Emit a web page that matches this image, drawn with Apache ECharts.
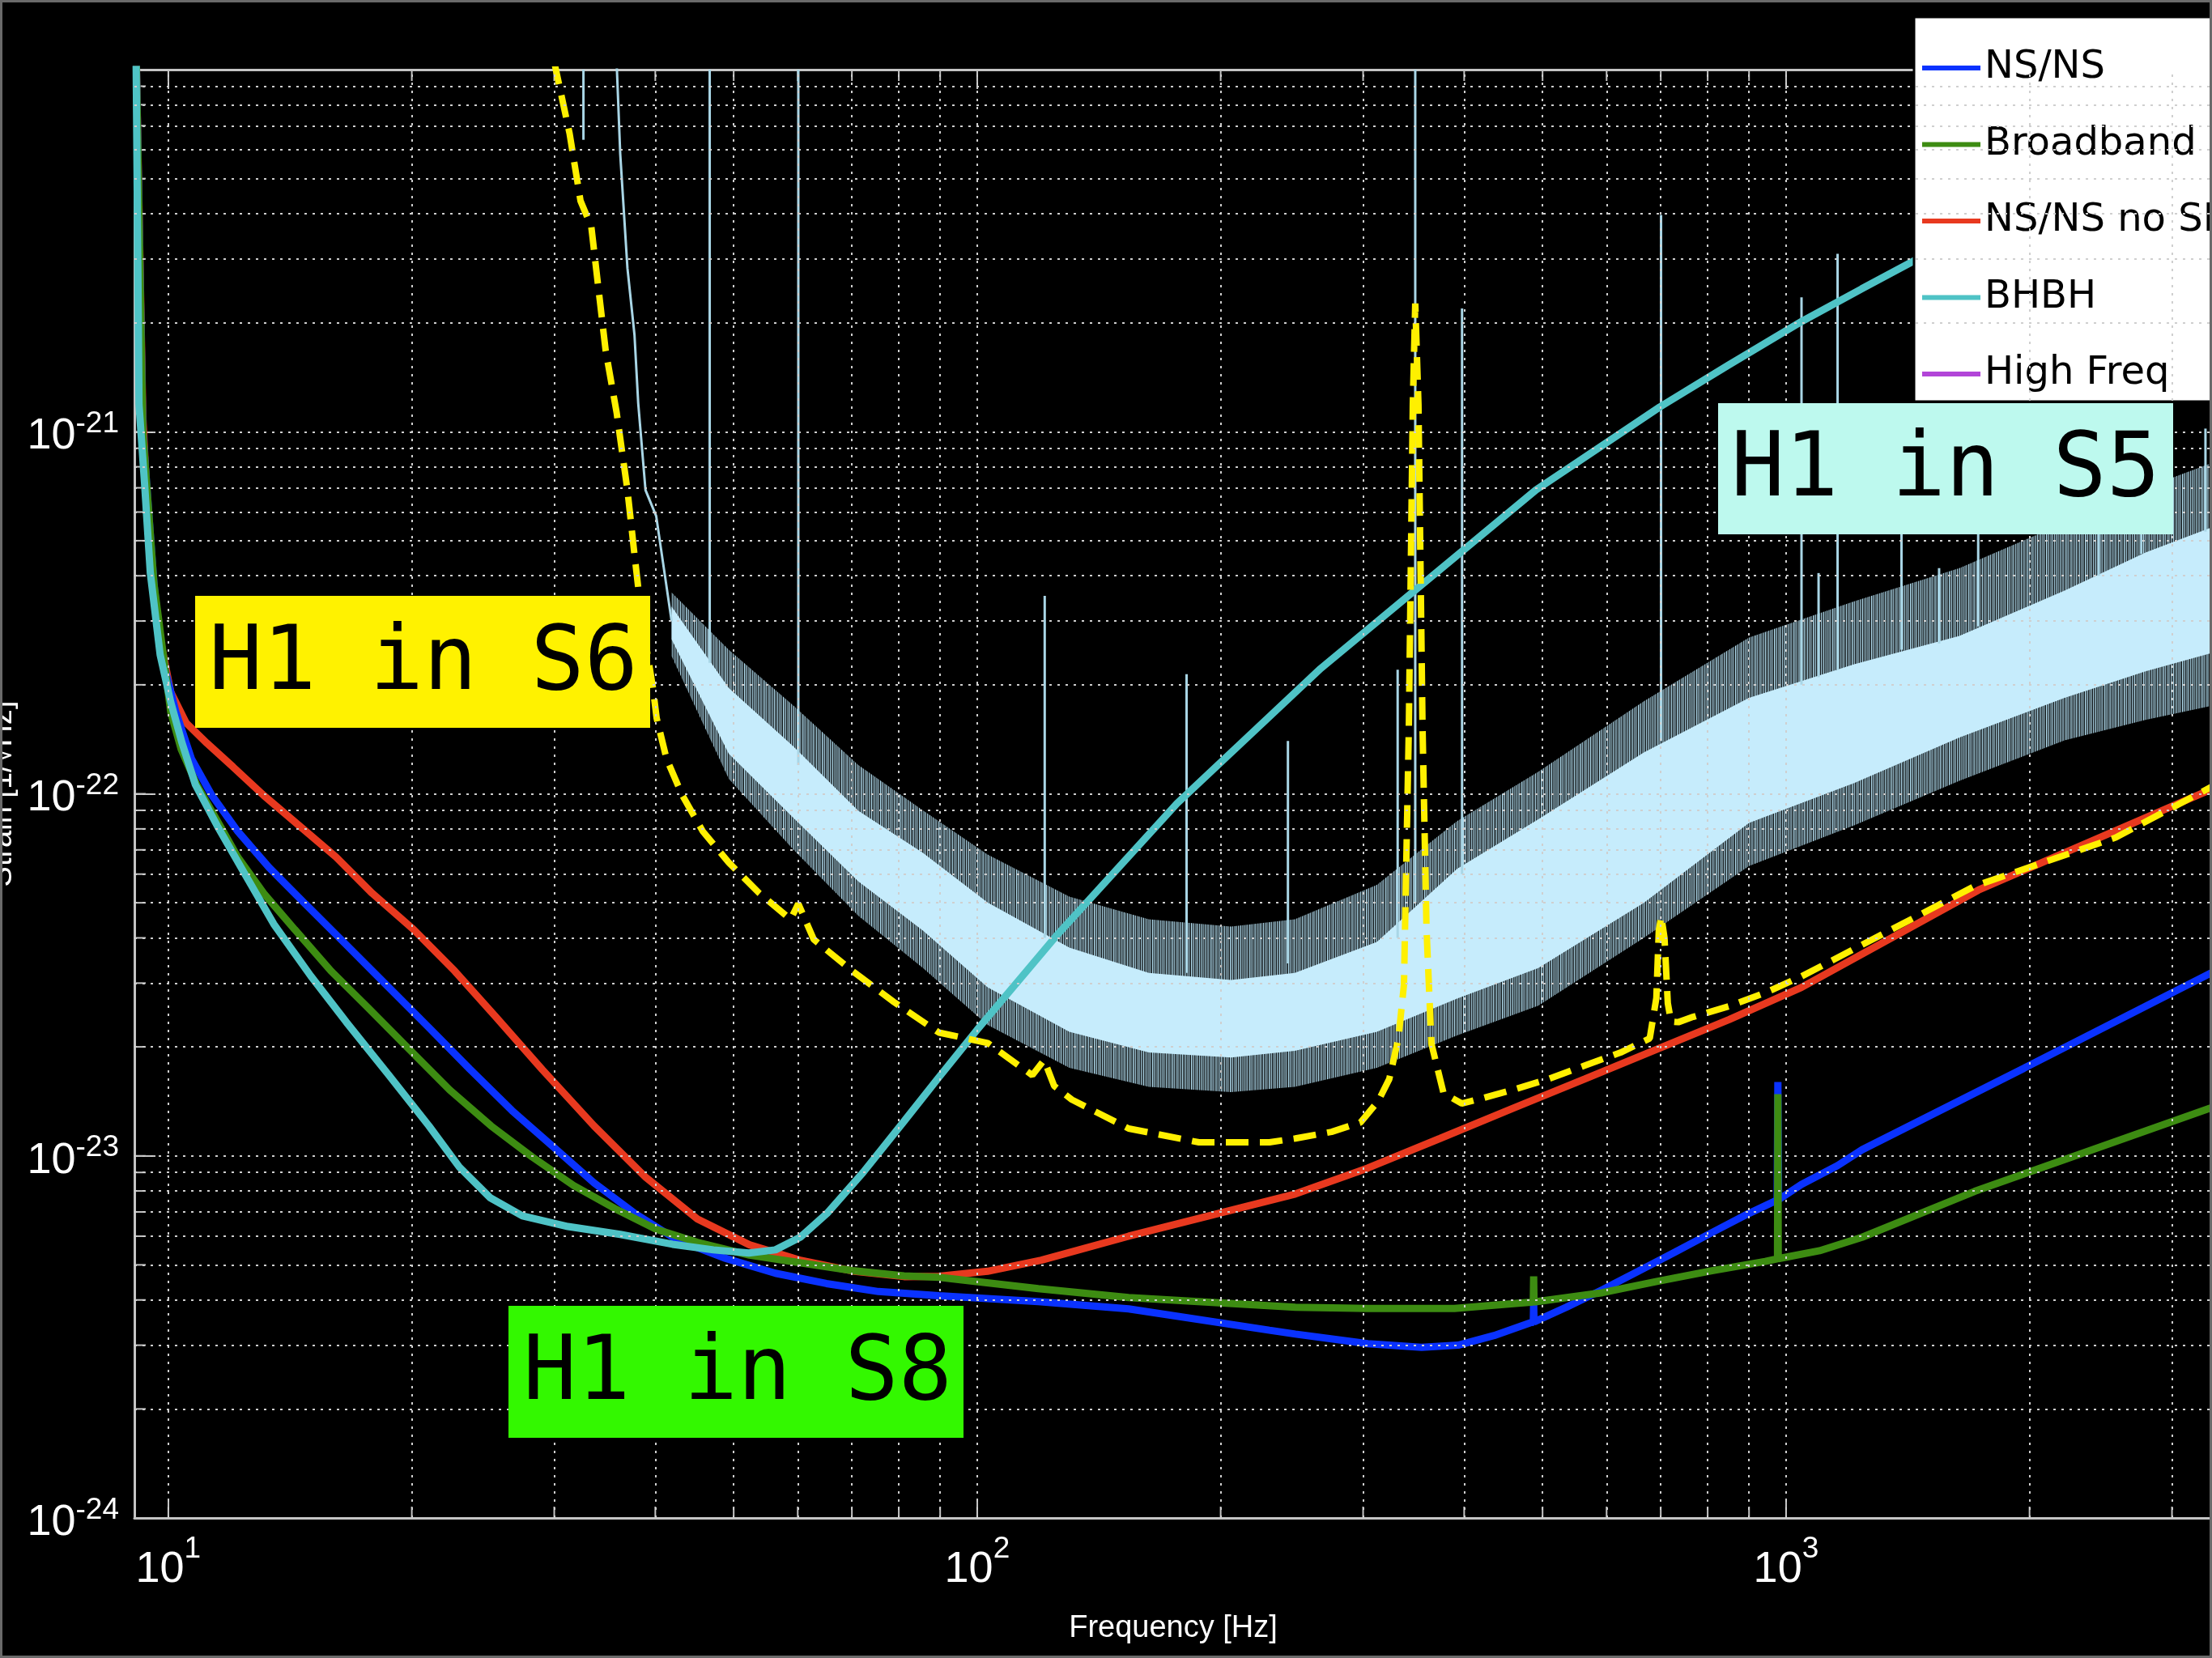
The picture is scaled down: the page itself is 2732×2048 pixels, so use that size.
<!DOCTYPE html>
<html>
<head>
<meta charset="utf-8">
<title>H1 strain sensitivity</title>
<script src="https://cdn.jsdelivr.net/npm/echarts@6.0.0/dist/echarts.min.js"></script>
<style>
  html, body { margin: 0; padding: 0; background: #000; }
  #main { width: 2732px; height: 2048px; }
</style>
</head>
<body>
<div id="main"></div>
<script>
// values: frequency in Hz, strain in 1/sqrt(Hz)

var nsnsFreq = [9.12, 9.3, 9.6, 9.78, 9.92, 10.22, 10.68, 11.32, 12.19, 13.32, 14.76, 16.61, 18.67, 21.0, 23.6, 26.6, 29.9, 33.6, 37.8, 42.5, 48.6, 56.3, 65.1, 75.5, 89.7, 119, 153.9, 229.8, 247.4, 304, 354.4, 393.2, 435.6, 482.7, 487, 487.5, 488, 535.2, 593.2, 657.4, 728.6, 807.5, 895.4, 975, 977, 979, 1045, 1158, 1242, 1968, 3362];
var nsnsStrain = [1.2e-20, 1.0e-21, 3.8e-22, 2.6e-22, 2.18e-22, 1.68e-22, 1.25e-22, 9.9e-23, 7.87e-23, 6.26e-23, 4.97e-23, 3.82e-23, 2.94e-23, 2.26e-23, 1.735e-23, 1.334e-23, 1.06e-23, 8.42e-24, 6.92e-24, 5.87e-24, 5.23e-24, 4.74e-24, 4.44e-24, 4.22e-24, 4.11e-24, 3.96e-24, 3.78e-24, 3.3e-24, 3.22e-24, 3.03e-24, 2.96e-24, 3.0e-24, 3.19e-24, 3.46e-24, 3.47e-24, 3.92e-24, 3.48e-24, 3.82e-24, 4.27e-24, 4.81e-24, 5.42e-24, 6.12e-24, 6.9e-24, 7.55e-24, 1.6e-23, 7.57e-24, 8.34e-24, 9.4e-24, 1.04e-23, 1.745e-23, 3.21e-23];

var broadFreq = [9.12, 9.3, 9.6, 10.07, 10.37, 10.84, 11.5, 12.19, 13.12, 14.33, 15.89, 17.61, 19.81, 22.28, 25.06, 28.18, 31.7, 35.67, 40.12, 45.1, 52.3, 60.6, 70.1, 81.2, 89.7, 119, 153.9, 247.4, 304, 389, 487, 487.5, 488, 593.2, 692.1, 807.5, 942.6, 976, 977, 978, 1100, 1242, 1711, 3362];
var broadStrain = [1.2e-20, 1.0e-21, 3.8e-22, 1.68e-22, 1.33e-22, 1.06e-22, 8.41e-23, 6.68e-23, 5.31e-23, 4.22e-23, 3.24e-23, 2.58e-23, 1.98e-23, 1.52e-23, 1.21e-23, 9.93e-24, 8.28e-24, 7.15e-24, 6.27e-24, 5.77e-24, 5.32e-24, 5.06e-24, 4.82e-24, 4.66e-24, 4.62e-24, 4.3e-24, 4.06e-24, 3.82e-24, 3.79e-24, 3.79e-24, 3.95e-24, 4.65e-24, 3.95e-24, 4.19e-24, 4.5e-24, 4.81e-24, 5.11e-24, 5.2e-24, 1.48e-23, 5.2e-24, 5.47e-24, 5.96e-24, 7.98e-24, 1.36e-23];

var noSrmFreq = [9.12, 9.3, 9.5, 9.78, 10.07, 10.52, 11.16, 12.02, 13.12, 14.54, 16.12, 17.87, 20.1, 22.6, 25.4, 29.0, 33.6, 38.96, 45.1, 52.3, 60.6, 70.1, 81.2, 89.7, 103, 120, 153.9, 247.4, 303.8, 373.4, 458.6, 563.5, 692.1, 850.5, 1045, 1729, 3362];
var noSrmStrain = [1.2e-20, 1.1e-21, 4.35e-22, 2.65e-22, 1.91e-22, 1.57e-22, 1.38e-22, 1.187e-22, 9.9e-23, 8.14e-23, 6.69e-23, 5.31e-23, 4.22e-23, 3.24e-23, 2.42e-23, 1.73e-23, 1.21e-23, 8.71e-24, 6.69e-24, 5.68e-24, 5.14e-24, 4.81e-24, 4.64e-24, 4.65e-24, 4.8e-24, 5.15e-24, 6.0e-24, 7.85e-24, 9.25e-24, 1.117e-23, 1.35e-23, 1.63e-23, 1.97e-23, 2.38e-23, 2.92e-23, 5.42e-23, 1.031e-22];

var bhbhFreq = [9.12, 9.2, 9.35, 9.5, 9.77, 10.07, 10.4, 10.8, 11.5, 12.4, 13.5, 15.0, 16.6, 18.7, 21.0, 22.9, 25.0, 27.4, 31.2, 36.2, 42.0, 47.2, 52.2, 56.3, 60.5, 65.2, 72.3, 81.3, 89.7, 100, 125, 176.6, 266, 340, 402, 490.6, 600, 698, 850, 1047, 1240, 1442, 3362];
var bhbhStrain = [1.2e-20, 1.19e-21, 7.1e-22, 4.08e-22, 2.42e-22, 1.79e-22, 1.38e-22, 1.06e-22, 8.14e-23, 6.07e-23, 4.37e-23, 3.14e-23, 2.34e-23, 1.68e-23, 1.21e-23, 9.31e-24, 7.66e-24, 6.83e-24, 6.38e-24, 6.07e-24, 5.70e-24, 5.50e-24, 5.39e-24, 5.50e-24, 5.97e-24, 6.93e-24, 9.01e-24, 1.25e-23, 1.65e-23, 2.23e-23, 4.03e-23, 9.4e-23, 2.22e-22, 3.5e-22, 4.77e-22, 6.9e-22, 9.33e-22, 1.17e-21, 1.53e-21, 2.02e-21, 2.48e-21, 2.97e-21, 7.0e-21];

// H1 in S6 (dashed)
var s6Freq = [30.0, 31.34, 32.33, 33.34, 34.02, 34.73, 35.83, 36.95, 37.73, 38.5, 39.72, 40.15, 41.3, 43.2, 45.8, 49.3, 53.8, 58.8, 60.1, 62.8, 70.1, 78.9, 89.7, 103, 117, 121, 124.5, 130.9, 153.9, 188, 229.8, 247.4, 274.2, 297.8, 313.4, 323.2, 331.7, 337, 341.7, 345.6, 348, 351.2, 355.3, 359.4, 364.4, 377.2, 397.2, 422.3, 458.6, 508.4, 563.5, 624.6, 678.4, 691.3, 696.1, 701, 707.5, 714.2, 720.8, 736, 767.3, 850.5, 942.6, 1045, 1711, 2556, 3362];
var s6Strain = [1.05e-20, 6.66e-21, 4.34e-21, 3.68e-21, 2.49e-21, 1.675e-21, 1.13e-21, 6.9e-22, 4.5e-22, 3.03e-22, 1.97e-22, 1.62e-22, 1.25e-22, 9.9e-23, 7.87e-23, 6.46e-23, 5.31e-23, 4.5e-23, 4.97e-23, 3.96e-23, 3.24e-23, 2.66e-23, 2.19e-23, 2.05e-23, 1.67e-23, 1.84e-23, 1.56e-23, 1.43e-23, 1.19e-23, 1.09e-23, 1.09e-23, 1.117e-23, 1.165e-23, 1.237e-23, 1.42e-23, 1.63e-23, 2.11e-23, 2.97e-23, 1.52e-22, 1.19e-21, 2.26e-21, 1.19e-21, 1.52e-22, 4.19e-23, 2.04e-23, 1.49e-23, 1.395e-23, 1.444e-23, 1.52e-23, 1.63e-23, 1.775e-23, 1.93e-23, 2.11e-23, 2.73e-23, 4.19e-23, 4.59e-23, 4.0e-23, 2.64e-23, 2.35e-23, 2.34e-23, 2.42e-23, 2.59e-23, 2.82e-23, 3.13e-23, 5.56e-23, 7.57e-23, 1.047e-22];

// H1 in S5: steep low-frequency trace, then the noise band (core and outer fringe)
var s5LowFreq = [35.8, 36.2, 36.95, 37.7, 38.1, 38.9, 40.1, 41.9];
var s5LowStrain = [1.1e-20, 5.85e-21, 2.83e-21, 1.85e-21, 1.2e-21, 6.9e-22, 5.85e-22, 3.0e-22];
var s5Freq = [41.9, 49.3, 59.3, 71.3, 85.7, 103, 130, 163, 206, 247, 312, 392, 494, 667, 900, 1214, 1638, 2210, 2782, 3362];
var s5CoreHi = [3.29e-22, 1.96e-22, 1.35e-22, 8.97e-23, 6.87e-23, 5.01e-23, 3.76e-23, 3.2e-23, 3.06e-23, 3.2e-23, 3.9e-23, 6.2e-23, 8.5e-23, 1.3e-22, 1.84e-22, 2.28e-22, 2.73e-22, 3.64e-22, 4.64e-22, 5.45e-22];
var s5CoreLo = [2.67e-22, 1.29e-22, 8.57e-23, 5.73e-23, 4.19e-23, 2.92e-23, 2.2e-23, 1.93e-23, 1.87e-23, 1.95e-23, 2.2e-23, 2.72e-23, 3.3e-23, 5.0e-23, 8.31e-23, 1.07e-22, 1.43e-22, 1.84e-22, 2.18e-22, 2.45e-22];
var s5FringeHi = [3.6e-22, 2.5e-22, 1.75e-22, 1.2e-22, 9.0e-23, 6.8e-23, 5.2e-23, 4.5e-23, 4.3e-23, 4.5e-23, 5.6e-23, 8.4e-23, 1.15e-22, 1.8e-22, 2.7e-22, 3.4e-22, 4.2e-22, 5.6e-22, 7.0e-22, 8.2e-22];
var s5FringeLo = [2.4e-22, 1.1e-22, 7.0e-23, 4.6e-23, 3.3e-23, 2.3e-23, 1.75e-23, 1.55e-23, 1.5e-23, 1.55e-23, 1.75e-23, 2.15e-23, 2.6e-23, 4.0e-23, 6.32e-23, 8.18e-23, 1.086e-22, 1.405e-22, 1.6e-22, 1.75e-22];
// S5 spectral lines
var s5LineFreq = [32.6, 46.7, 60.1, 121.2, 181.5, 242.2, 331, 348, 397.6, 700.6, 1045, 1097, 1158, 1389, 1546, 1728, 2436, 2750, 3300];
var s5LineBase = [6.4e-21, 2.3e-22, 1.2e-22, 4.0e-23, 3.2e-23, 3.4e-23, 4.0e-23, 5.0e-23, 6.0e-23, 1.4e-22, 2.0e-22, 2.1e-22, 2.2e-22, 2.5e-22, 2.6e-22, 2.9e-22, 4.0e-22, 4.6e-22, 5.3e-22];
var s5LineTop = [1e-20, 1e-20, 1e-20, 3.52e-22, 2.14e-22, 1.40e-22, 2.2e-22, 1e-20, 2.19e-21, 3.97e-21, 2.35e-21, 4.07e-22, 3.1e-21, 5.25e-22, 4.2e-22, 5.25e-22, 6.0e-22, 1.02e-21, 1.02e-21];

var legendNames = ['NS/NS', 'Broadband', 'NS/NS no SRM', 'BHBH', 'High Freq'];
var gridMantissa = [1, 2, 3, 4, 5, 6, 7, 8, 9];
var gridFreqDecades = [10, 100, 1000];
var gridStrainDecades = [1e-24, 1e-23, 1e-22, 1e-21];

var F_MIN = 9.08, F_MAX = 3362;
// ECharts rounds tiny log-axis ticks to 0, so strain is plotted in units of 1e-24
var STRAIN_UNIT = 1e-24;
var UNIT_EXP = -24;
var U_MIN = 1, U_MAX = 10000;
function toU(h) { return h / STRAIN_UNIT; }
function pts(freq, strain) {
	return freq.map(function (f, i) { return [f, toU(strain[i])]; });
}

var gridFreq = [];
gridFreqDecades.forEach(function (d) {
	gridMantissa.forEach(function (m) {
		if (m * d < F_MAX) { gridFreq.push(m * d); }
	});
});
var gridStrain = [];
gridStrainDecades.forEach(function (d) {
	gridMantissa.forEach(function (m) {
		if (m * d > 1e-24) { gridStrain.push(toU(m * d)); }
	});
});

// streaky texture for the noisy fringe of the S5 band
var streakX = [0, 2, 3.5, 5, 7, 8.5, 10, 12, 13.5, 15, 17, 18.5, 20, 22];
var streakAlpha = [0.95, 0.6, 0.85, 0.5, 1, 0.65, 0.8, 0.55, 0.9, 0.6, 0.85, 0.5, 0.95, 0.7];
var streak = document.createElement('canvas');
streak.width = 24;
streak.height = 4;
(function () {
	var ctx = streak.getContext('2d');
	streakX.forEach(function (x, i) {
		ctx.fillStyle = 'rgba(176,218,236,' + streakAlpha[i] + ')';
		ctx.fillRect(x, 0, 1.2, 4);
	});
})();

var NUM_FONT = "'Liberation Sans Narrow', 'Liberation Sans', Arial, sans-serif";
var AXIS_GRAY = '#c4c4c4';
var LINE_W = 9;

function richFor(bPadding) {
	return {
		b: { color: '#fff', fontSize: 54, fontFamily: NUM_FONT, lineHeight: 56, padding: bPadding },
		s: { color: '#fff', fontSize: 37, fontFamily: NUM_FONT, lineHeight: 40, verticalAlign: 'top' }
	};
}

var chart = echarts.init(document.getElementById('main'), null, { renderer: 'canvas' });

var lineCommon = {
	type: 'line',
	showSymbol: false,
	symbol: 'none',
	silent: true,
	clip: true,
	animation: false
};

function curve(name, color, freq, strain, extra) {
	var s = Object.assign({}, lineCommon, {
		name: name,
		color: color,
		data: pts(freq, strain),
		lineStyle: { color: color, width: LINE_W }
	});
	return Object.assign(s, extra || {});
}

function tickLine(x1, y1, x2, y2) {
	return { type: 'line', shape: { x1: x1, y1: y1, x2: x2, y2: y2 }, style: { stroke: AXIS_GRAY, lineWidth: 2 } };
}

var boxText = { fill: '#000', fontSize: 110, fontFamily: 'DejaVu Sans Mono', align: 'center', verticalAlign: 'middle', shadowBlur: 6, shadowColor: 'rgba(0,0,0,0.6)' };

var option = {
	backgroundColor: '#000',
	animation: false,
	grid: { left: 166, top: 86, right: 0, bottom: 173, outerBoundsMode: 'none', containLabel: false },
	legend: {
		data: legendNames,
		orient: 'vertical',
		left: 2364,
		top: 21,
		backgroundColor: '#fff',
		borderColor: '#000',
		borderWidth: 3,
		borderRadius: 0,
		padding: [35, 60, 6, 10],
		itemWidth: 72,
		itemHeight: 6,
		itemGap: 38.5,
		icon: 'rect',
		selectedMode: false,
		textStyle: { color: '#000', fontSize: 48, lineHeight: 56, fontFamily: 'DejaVu Sans' }
	},
	xAxis: [
		{
			type: 'log',
			min: F_MIN,
			max: F_MAX,
			position: 'bottom',
			name: 'Frequency [Hz]',
			nameLocation: 'middle',
			nameGap: 118,
			nameTextStyle: { color: '#fff', fontSize: 38, fontFamily: 'Liberation Sans' },
			axisLine: { show: true, onZero: false, lineStyle: { color: AXIS_GRAY, width: 3 } },
			axisTick: { show: true, inside: true, length: 24, lineStyle: { color: AXIS_GRAY, width: 2 } },
			splitLine: { show: false },
			axisLabel: {
				margin: 20,
				showMinLabel: false,
				showMaxLabel: false,
				formatter: function (v) {
					return '{b|10}{s|' + Math.round(Math.log(v) / Math.LN10) + '}';
				},
				rich: richFor([32, 0, 0, 0])
			}
		},
		{
			type: 'log',
			min: F_MIN,
			max: F_MAX,
			position: 'top',
			axisLine: { show: true, onZero: false, lineStyle: { color: AXIS_GRAY, width: 3 } },
			axisTick: { show: true, inside: true, length: 24, lineStyle: { color: AXIS_GRAY, width: 2 } },
			axisLabel: { show: false },
			splitLine: { show: false }
		}
	],
	yAxis: {
		type: 'log',
		min: U_MIN,
		max: U_MAX,
		name: 'Strain [1/\u221AHz]',
		nameLocation: 'middle',
		nameGap: 142,
		nameTextStyle: { color: '#fff', fontSize: 38, fontFamily: 'Liberation Sans' },
		axisLine: { show: true, onZero: false, lineStyle: { color: AXIS_GRAY, width: 3 } },
		axisTick: { show: true, inside: true, length: 26, lineStyle: { color: AXIS_GRAY, width: 2 } },
		splitLine: { show: false },
		axisLabel: {
			margin: 19,
			showMaxLabel: false,
			formatter: function (v) {
				return '{b|10}{s|' + (Math.round(Math.log(v) / Math.LN10) + UNIT_EXP) + '}';
			},
			rich: richFor([29, 0, 17, 0])
		}
	},
	series: [
		// steep part of S5, also carries the dotted grid
		Object.assign({}, lineCommon, {
			name: 'S5 low',
			data: pts(s5LowFreq, s5LowStrain),
			lineStyle: { color: '#a9d6e6', width: 3 },
			markLine: {
				silent: true,
				symbol: ['none', 'none'],
				label: { show: false },
				emphasis: { disabled: true },
				animation: false,
				lineStyle: { color: '#cfcfcf', width: 2, type: [3, 7] },
				data: gridFreq.map(function (v) { return { xAxis: v }; })
					.concat(gridStrain.map(function (v) { return { yAxis: v }; }))
			}
		}),
		// short minor ticks along left, bottom and top edges
		{
			type: 'custom',
			name: 'minor y ticks',
			silent: true,
			data: gridStrain.map(function (v) { return [F_MIN, v]; }),
			renderItem: function (params, api) {
				var p = api.coord([F_MIN, api.value(1)]);
				return tickLine(p[0], p[1], p[0] + 14, p[1]);
			}
		},
		{
			type: 'custom',
			name: 'minor x ticks',
			silent: true,
			data: gridFreq.map(function (f) { return [f, U_MIN]; }),
			renderItem: function (params, api) {
				var b = api.coord([api.value(0), U_MIN]);
				var t = api.coord([api.value(0), U_MAX]);
				return {
					type: 'group',
					children: [tickLine(b[0], b[1], b[0], b[1] - 14), tickLine(t[0], t[1], t[0], t[1] + 14)]
				};
			}
		},
		{
			type: 'custom',
			name: 'S5 band',
			silent: true,
			clip: true,
			data: pts(s5Freq, s5CoreHi),
			renderItem: function (params, api) {
				if (params.dataIndex !== 0) { return null; }
				function band(lo, hi) {
					var upper = s5Freq.map(function (f, i) { return api.coord([f, toU(hi[i])]); });
					var lower = s5Freq.map(function (f, i) { return api.coord([f, toU(lo[i])]); }).reverse();
					return upper.concat(lower);
				}
				return {
					type: 'group',
					children: [
						{ type: 'polygon', shape: { points: band(s5FringeLo, s5FringeHi) }, style: { fill: { image: streak, repeat: 'repeat' } } },
						{ type: 'polygon', shape: { points: band(s5CoreLo, s5CoreHi) }, style: { fill: '#c6ecfc' } }
					]
				};
			}
		},
		{
			type: 'custom',
			name: 'S5 lines',
			silent: true,
			clip: true,
			data: s5LineFreq.map(function (f, i) { return [f, toU(s5LineBase[i]), toU(s5LineTop[i])]; }),
			encode: { x: 0, y: [1, 2] },
			renderItem: function (params, api) {
				var p0 = api.coord([api.value(0), api.value(1)]);
				var p1 = api.coord([api.value(0), api.value(2)]);
				return {
					type: 'line',
					shape: { x1: p0[0], y1: p0[1], x2: p1[0], y2: p1[1] },
					style: { stroke: '#a9d6e6', lineWidth: 3 }
				};
			}
		},
		curve('NS/NS no SRM', '#e8391f', noSrmFreq, noSrmStrain),
		curve('NS/NS', '#0a32ff', nsnsFreq, nsnsStrain),
		curve('Broadband', '#3d8c12', broadFreq, broadStrain),
		curve('BHBH', '#4fc3c6', bhbhFreq, bhbhStrain),
		curve('S6', '#fff000', s6Freq, s6Strain, {
			lineStyle: { color: '#fff000', width: 8, type: [28, 14] }
		}),
		Object.assign({}, lineCommon, { name: 'High Freq', color: '#b245d8', data: [] })
	],
	graphic: [
		{ type: 'rect', z: 100, shape: { x: 241, y: 736, width: 562, height: 163 }, style: { fill: '#fff200' } },
		{ type: 'text', z: 101, x: 523, y: 822, style: Object.assign({ text: 'H1 in S6' }, boxText) },
		{ type: 'rect', z: 100, shape: { x: 2122, y: 498, width: 562, height: 162 }, style: { fill: '#bdf9ee' } },
		{ type: 'text', z: 101, x: 2403, y: 583, style: Object.assign({ text: 'H1 in S5' }, boxText) },
		{ type: 'rect', z: 100, shape: { x: 628, y: 1613, width: 562, height: 163 }, style: { fill: '#33f800' } },
		{ type: 'text', z: 101, x: 911, y: 1699, style: Object.assign({ text: 'H1 in S8' }, boxText) },
		{ type: 'rect', z: 120, silent: true, shape: { x: 1.5, y: 1.5, width: 2729, height: 2045 }, style: { fill: 'none', stroke: '#6a6a6a', lineWidth: 3 } }
	]
};

chart.setOption(option);
</script>
</body>
</html>
